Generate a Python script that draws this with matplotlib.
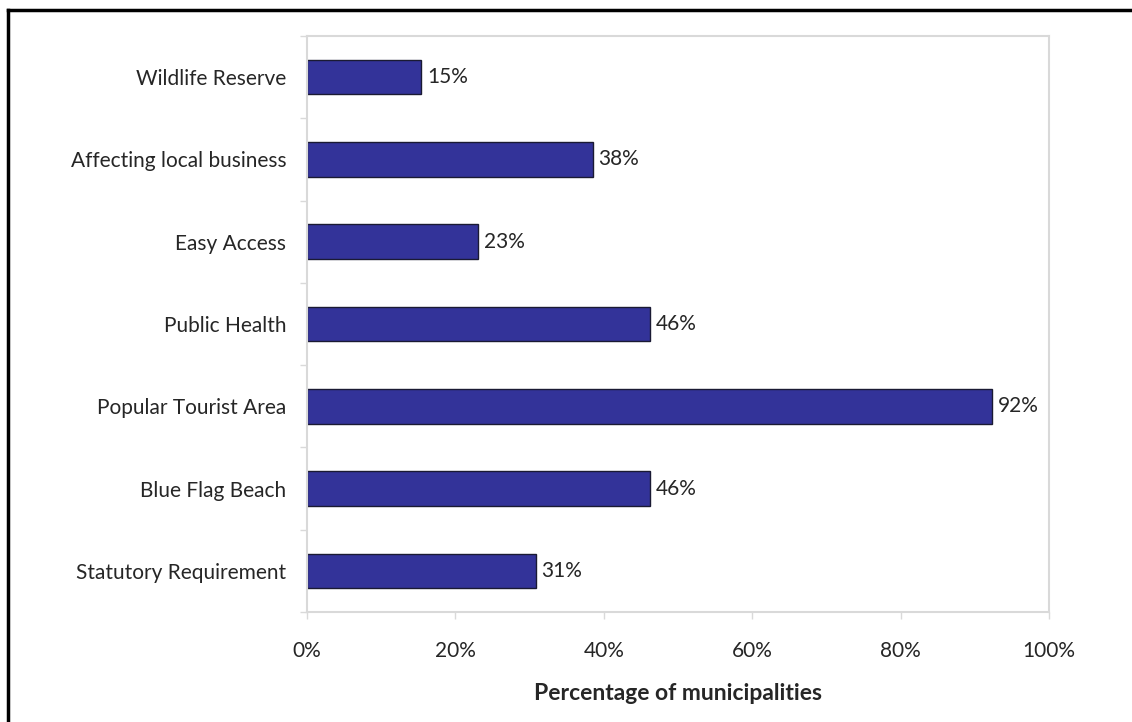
import matplotlib
matplotlib.use("Agg")
import matplotlib.pyplot as plt
from matplotlib.ticker import FixedLocator, PercentFormatter
import numpy as np

categories = ["Statutory Requirement", "Blue Flag Beach", "Popular Tourist Area",
              "Public Health", "Easy Access", "Affecting local business", "Wildlife Reserve"]
values = [30.8, 46.2, 92.3, 46.2, 23.1, 38.5, 15.4]
xticks = [0, 20, 40, 60, 80, 100]

plt.rcParams['font.family'] = ['Lato', 'DejaVu Sans']
text_color = '#262626'
spine_color = '#d9d9d9'
fs = 15

fig = plt.figure(figsize=(11.32, 7.22), dpi=100)
ax = fig.add_axes([307/1132, 1 - 612/722, 742/1132, 576/722])

y = np.arange(len(categories))
bars = ax.barh(y, values, height=0.42, color='#333399', edgecolor='#1a1a33', linewidth=1.0)
for b, v in zip(bars, values):
    ax.text(b.get_width() + 0.8, b.get_y() + b.get_height() / 2, f"{v:.0f}%",
            va='center', ha='left', fontsize=fs, color=text_color)

ax.set_xlim(0, 100)
ax.set_ylim(-0.5, len(categories) - 0.5)
ax.set_yticks(y)
ax.set_yticklabels(categories)
ax.yaxis.set_minor_locator(FixedLocator(np.arange(-0.5, len(categories), 1.0)))
ax.tick_params(axis='y', which='major', length=0, pad=15, labelsize=fs, labelcolor=text_color)
ax.tick_params(axis='y', which='minor', length=5, color=spine_color, width=1)
ax.set_xticks(xticks)
ax.xaxis.set_major_formatter(PercentFormatter(decimals=0))
ax.tick_params(axis='x', length=5, color=spine_color, width=1, pad=16, labelsize=fs, labelcolor=text_color)
ax.set_xlabel("Percentage of municipalities", fontsize=16.5, fontweight='bold', color=text_color, labelpad=16)

for s in ax.spines.values():
    s.set_color(spine_color)
    s.set_linewidth(1.5)

# outer frame
fig.add_artist(plt.Line2D([8/1132, 8/1132], [0, 1 - 10/722], color='black', lw=2.5, transform=fig.transFigure))
fig.add_artist(plt.Line2D([8/1132, 1], [1 - 10/722, 1 - 10/722], color='black', lw=2.5, transform=fig.transFigure))

fig.savefig("out.png", dpi=100)
